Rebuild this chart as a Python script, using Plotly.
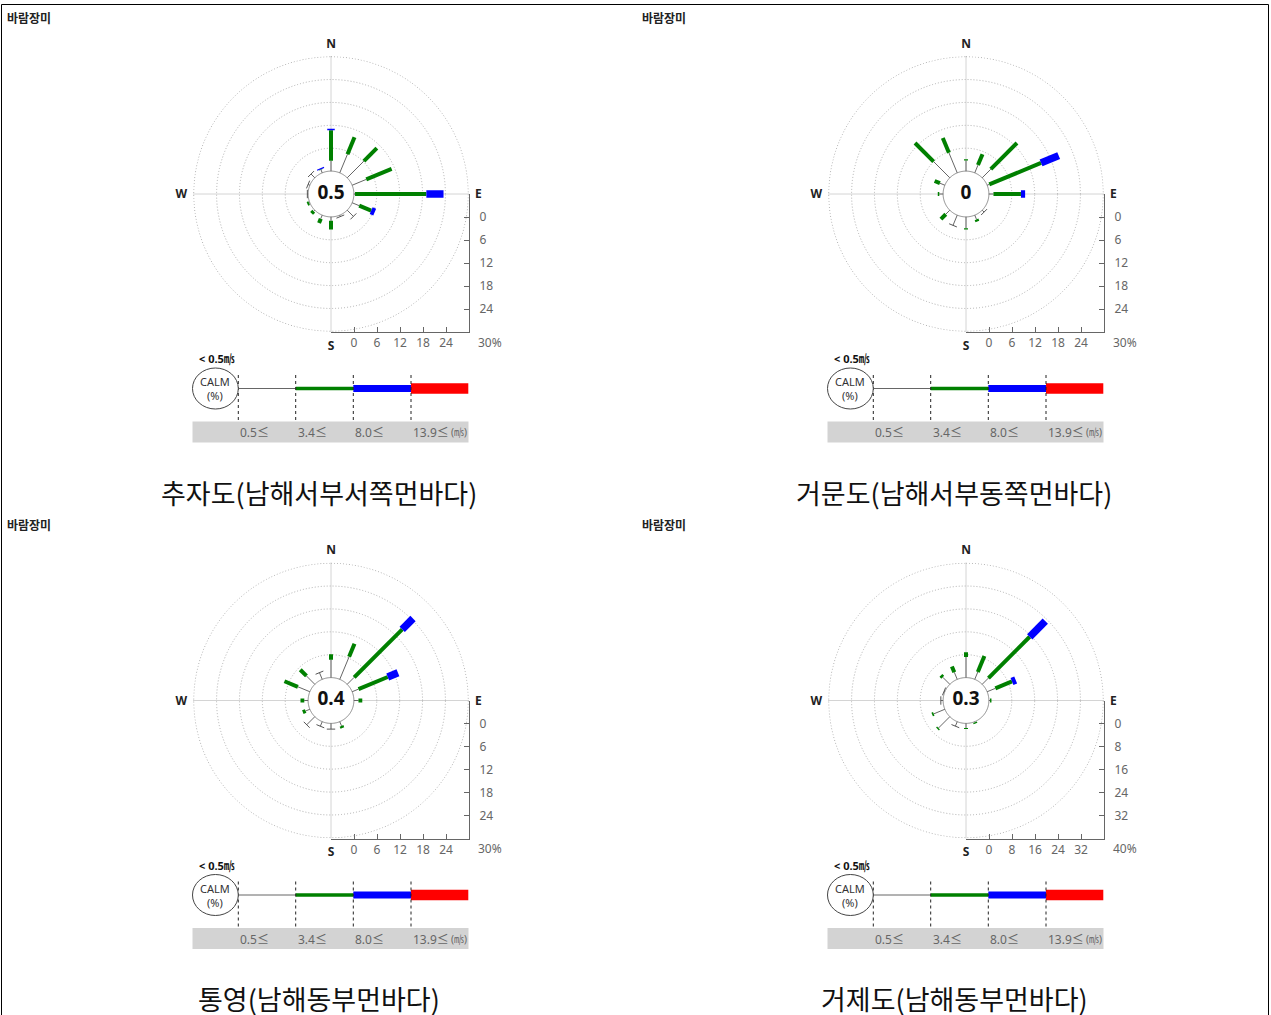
import numpy as np
import plotly.graph_objects as go

W, H = 1271, 1015

# ---------------- data ----------------
DIRECTIONS = ["N", "NNE", "NE", "ENE", "E", "ESE", "SE", "SSE",
              "S", "SSW", "SW", "WSW", "W", "WNW", "NW", "NNW"]
THETA = [i * 22.5 for i in range(len(DIRECTIONS))]

SPEED_LABELS = ["0.5≤", "3.4≤", "8.0≤", "13.9≤"]
UNIT_LABEL = "(㎧)"
CALM_LABEL = "< 0.5㎧"

# frequency (%) per direction for each speed class
CHUJADO_GRAY = [2.7, 5.3, 6.2, 4.0, 0.3, 2.0, 2.3, 0.4, 1.0, 1.0, 0.4, 0.2, 0.2, 0.5, 1.4, 0.9]
CHUJADO_GREEN = [8.0, 4.8, 4.8, 7.2, 18.7, 3.4, 0, 0, 2.3, 1.2, 0.8, 0.5, 0, 0, 0, 0.1]
CHUJADO_BLUE = [0.4, 0, 0, 0, 4.5, 1.0, 0, 0, 0, 0, 0, 0, 0, 0, 0, 0.3]
CHUJADO_RED = [0] * 16

GEOMUNDO_GRAY = [2.8, 2.2, 3.2, 0.6, 1.2, 0, 0.7, 1.2, 3.0, 2.9, 1.5, 0, 1.0, 1.4, 6.0, 5.7]
GEOMUNDO_GREEN = [0.3, 3.1, 9.7, 14.7, 7.2, 0, 0, 0.6, 0.3, 0, 1.8, 0, 0.4, 1.5, 6.9, 4.2]
GEOMUNDO_BLUE = [0, 0, 0, 5.0, 1.1, 0, 0, 0, 0, 0, 0, 0, 0, 0, 0, 0]
GEOMUNDO_RED = [0] * 16

TONGYEONG_GRAY = [4.7, 6.4, 2.6, 1.8, 1.2, 0, 0, 1.2, 1.5, 1.3, 3.0, 1.2, 1.0, 3.4, 3.1, 1.9]
TONGYEONG_GREEN = [1.4, 3.7, 17.8, 8.3, 1.0, 0, 0, 0.6, 0, 0, 0, 0.8, 1.0, 3.8, 2.3, 0]
TONGYEONG_BLUE = [0, 0, 4.0, 2.9, 0, 0, 0, 0, 0, 0, 0, 0, 0, 0, 0, 0]
TONGYEONG_RED = [0] * 16

GEOJEDO_GRAY = [7.2, 2.8, 3.1, 3.1, 0.4, 0, 0, 0.2, 1.6, 1.7, 5.6, 4.2, 0.8, 0.3, 3.5, 2.7]
GEOJEDO_GREEN = [1.7, 6.0, 20.4, 6.3, 0.5, 0, 0, 0.5, 0.4, 0, 0.5, 0.6, 0, 0, 0.9, 2.2]
GEOJEDO_BLUE = [0, 0, 7.7, 1.4, 0, 0, 0, 0, 0, 0, 0, 0, 0, 0, 0, 0]
GEOJEDO_RED = [0] * 16

STATIONS = ["추자도(남해서부서쪽먼바다)", "거문도(남해서부동쪽먼바다)",
            "통영(남해동부먼바다)", "거제도(남해동부먼바다)"]
CALM_VALUES = ["0.5", "0", "0.4", "0.3"]
RADIAL_MAX = [30, 30, 30, 40]
RADIAL_STEP = [6, 6, 6, 8]
PANEL_DATA = [
    [CHUJADO_GRAY, CHUJADO_GREEN, CHUJADO_BLUE, CHUJADO_RED],
    [GEOMUNDO_GRAY, GEOMUNDO_GREEN, GEOMUNDO_BLUE, GEOMUNDO_RED],
    [TONGYEONG_GRAY, TONGYEONG_GREEN, TONGYEONG_BLUE, TONGYEONG_RED],
    [GEOJEDO_GRAY, GEOJEDO_GREEN, GEOJEDO_BLUE, GEOJEDO_RED],
]

# ---------------- style / layout ----------------
CLASS_COLORS = ["#666666", "#008000", "#0000ff", "#ff0000"]
CLASS_WIDTHS = [1, 4, 7.5, 10]
LEGEND_WIDTHS = [1, 3.5, 7, 10.5]
CENTERS = [(331, 194), (966, 194), (331, 700.5), (966, 700.5)]
R = 138
GRID_COLOR = "#b0b0b0"
GRID_DASH = "1px,2px"
FONT = "Noto Sans, Noto Sans CJK KR, sans-serif"
KFONT = "Noto Sans CJK KR, Noto Sans, sans-serif"


def px(x):
    return x / W


def py(y):
    return 1 - y / H


fig = go.Figure()
shapes = []
annotations = []
layout = {}


def ann(x, y, text, size=12, color="#333", xanchor="center", yanchor="middle",
        family=FONT, weight="normal"):
    annotations.append(dict(x=px(x), y=py(y), xref="paper", yref="paper", text=text,
                            showarrow=False, xanchor=xanchor, yanchor=yanchor,
                            font=dict(size=size, color=color, family=family, weight=weight)))


for k in range(4):
    pid = "" if k == 0 else str(k + 1)
    polar = "polar" + pid
    cx, cy = CENTERS[k]
    rmax, step = RADIAL_MAX[k], RADIAL_STEP[k]
    classes = np.array(PANEL_DATA[k], dtype=float)
    cum = np.cumsum(classes, axis=0)
    starts = cum - classes
    circ_t = np.linspace(0, 360, 181)

    # outermost dotted ring of the radial scale
    fig.add_trace(go.Scatterpolar(r=[rmax] * len(circ_t), theta=circ_t, mode="lines",
                                  line=dict(color=GRID_COLOR, width=1, dash=GRID_DASH),
                                  subplot=polar, hoverinfo="skip", showlegend=False))

    # calm circle (white filled)
    fig.add_trace(go.Scatterpolar(r=[0] * len(circ_t), theta=circ_t, mode="lines",
                                  fill="toself", fillcolor="white",
                                  line=dict(color="#8a8a8a", width=1),
                                  subplot=polar, hoverinfo="skip", showlegend=False))

    # segments for each speed class
    for c in range(4):
        rr, tt = [], []
        for i in range(len(DIRECTIONS)):
            if classes[c][i] > 0:
                rr += [starts[c][i], cum[c][i], None]
                tt += [THETA[i], THETA[i], None]
        if rr:
            fig.add_trace(go.Scatterpolar(r=rr, theta=tt, mode="lines",
                                          line=dict(color=CLASS_COLORS[c], width=CLASS_WIDTHS[c]),
                                          subplot=polar, hoverinfo="skip", showlegend=False,
                                          connectgaps=False))

    # end caps for directions with only the lowest class
    cap_r, cap_t = [], []
    for i in range(len(DIRECTIONS)):
        if classes[0][i] > 0 and classes[1:, i].sum() == 0:
            cap_r.append(cum[0][i])
            cap_t.append(THETA[i])
    if cap_r:
        fig.add_trace(go.Scatterpolar(r=cap_r, theta=cap_t, mode="markers",
                                      marker=dict(symbol="line-ew", size=6, angle=cap_t,
                                                  line=dict(color="#555", width=1)),
                                      subplot=polar, hoverinfo="skip", showlegend=False))

    # calm value at the centre
    fig.add_trace(go.Scatterpolar(r=[-step], theta=[0], mode="text", text=[CALM_VALUES[k]],
                                  textfont=dict(size=19, color="#111", family=FONT, weight="bold"),
                                  subplot=polar, hoverinfo="skip", showlegend=False))

    layout[polar] = dict(
        domain=dict(x=[px(cx - R), px(cx + R)], y=[py(cy + R), py(cy - R)]),
        bgcolor="rgba(0,0,0,0)",
        radialaxis=dict(range=[-step, rmax + 0.03 * step], tickmode="array",
                        tickvals=list(np.arange(step, rmax, step)),
                        showticklabels=False, ticks="", showline=False,
                        gridcolor=GRID_COLOR, griddash=GRID_DASH, gridwidth=1),
        angularaxis=dict(rotation=90, direction="clockwise", tickmode="array",
                         tickvals=[0, 90, 180, 270], ticktext=["N", "E", "S", "W"],
                         showline=False, ticks="outside", ticklen=3,
                         tickcolor="rgba(0,0,0,0)", gridcolor="#d4d4d4", gridwidth=1,
                         tickfont=dict(size=12, color="#222", family=FONT, weight="bold")),
    )

    # L-shaped scale axes
    xa, ya = "xaxis" + pid, "yaxis" + pid
    ticks = list(np.arange(0, rmax, step))
    axis_common = dict(showline=True, linecolor="#666", linewidth=1, ticks="inside",
                       ticklen=5, tickcolor="#666", tickmode="array", tickvals=ticks,
                       tickfont=dict(size=12, color="#666", family=FONT),
                       showgrid=False, zeroline=False, fixedrange=True)
    layout[xa] = dict(domain=[px(cx), px(cx + R)], range=[-step, rmax],
                      anchor="y" + pid, side="bottom", **axis_common)
    layout[ya] = dict(domain=[py(cy + R), py(cy)], range=[rmax, -step],
                      anchor="x" + pid, side="right", ticklabelstandoff=7, **axis_common)
    fig.add_trace(go.Scatter(x=[None], y=[None], xaxis="x" + pid, yaxis="y" + pid,
                             showlegend=False, hoverinfo="skip"))
    annotations.append(dict(x=rmax, y=rmax, xref="x" + pid, yref="y" + pid,
                            text=f"{rmax}%", showarrow=False, xanchor="left",
                            yanchor="middle", xshift=7, yshift=-10,
                            font=dict(size=12, color="#666", family=FONT)))

    # ----- speed legend -----
    lx = [cx - 92.7, cx - 35.3, cx + 22.3, cx + 80.0, cx + 137.3]
    ly = cy + 194.5
    shapes.append(dict(type="rect", xref="paper", yref="paper",
                       x0=px(cx - 138.5), x1=px(cx + 137.5),
                       y0=py(cy + 248.5), y1=py(cy + 227.5),
                       fillcolor="#d3d3d3", line=dict(width=0), layer="below"))
    for c in range(4):
        shapes.append(dict(type="line", xref="paper", yref="paper",
                           x0=px(lx[c]), x1=px(lx[c + 1]), y0=py(ly), y1=py(ly),
                           line=dict(color=CLASS_COLORS[c], width=LEGEND_WIDTHS[c])))
        shapes.append(dict(type="line", xref="paper", yref="paper",
                           x0=px(lx[c]), x1=px(lx[c]), y0=py(cy + 181), y1=py(cy + 229),
                           line=dict(color="#222", width=1, dash="dot")))
        ann(lx[c], cy + 238.5, SPEED_LABELS[c], size=12, color="#666", xanchor="left")
    ann(cx + 118, cy + 238, UNIT_LABEL, size=10, color="#666", xanchor="left")
    shapes.append(dict(type="circle", xref="paper", yref="paper",
                       x0=px(cx - 138.5), x1=px(cx - 92.7),
                       y0=py(cy + 215), y1=py(cy + 174),
                       line=dict(color="#444", width=1), fillcolor="white"))
    ann(cx - 115.7, cy + 194.5, "CALM<br>(%)", size=11, color="#333")
    ann(cx - 114.5, cy + 165, CALM_LABEL, size=11, color="#111", weight="bold")

    # station title & header
    ann(cx - 12, cy + 298, STATIONS[k], size=27, color="#111", family=KFONT)
    ann(cx - 326, cy - 176.5, "바람장미", size=12, color="#222", xanchor="left",
        family=KFONT, weight="bold")

# outer border
shapes.append(dict(type="rect", xref="paper", yref="paper",
                   x0=px(1.5), x1=px(1268.5), y0=py(1030), y1=py(4.5),
                   line=dict(color="#000", width=1), fillcolor="rgba(0,0,0,0)"))

fig.update_layout(
    width=W, height=H, margin=dict(l=0, r=0, t=0, b=0),
    paper_bgcolor="white", plot_bgcolor="rgba(0,0,0,0)",
    showlegend=False, shapes=shapes, annotations=annotations,
    font=dict(family=FONT),
    **layout,
)

fig.write_html("out.html", config={"displayModeBar": False},
               post_script="document.body.style.margin='0';")
